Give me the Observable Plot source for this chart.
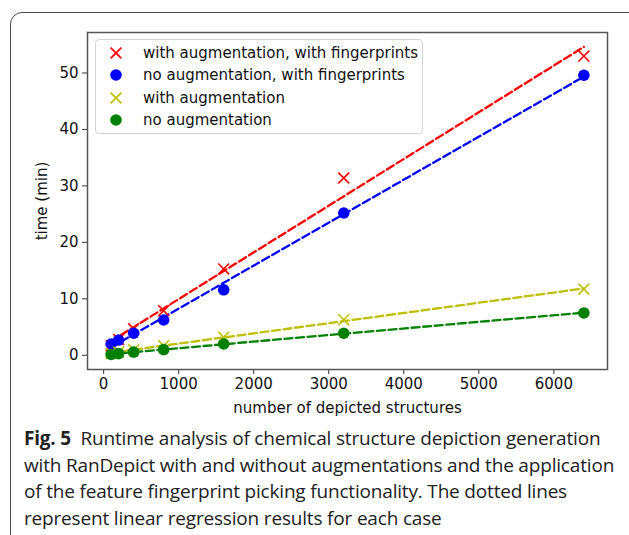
<!DOCTYPE html>
<html>
<head>
<meta charset="utf-8">
<script src="https://cdn.jsdelivr.net/npm/d3@7"></script>
<script src="https://cdn.jsdelivr.net/npm/@observablehq/plot@0.6"></script>
<style>
  html, body { margin: 0; padding: 0; background: #fff; width: 629px; height: 535px; overflow: hidden; }
  #wrap { position: relative; width: 629px; height: 535px; }
  #panel { position: absolute; left: 10px; top: 12px; width: 700px; height: 600px; border: 1.4px solid #4a4a4a; border-top-left-radius: 12px; box-sizing: border-box; }
  #chart { position: absolute; left: 0; top: 0; }
  #legend { position: absolute; left: 95px; top: 39px; width: 328px; height: 95px; box-sizing: border-box; border: 1px solid #d4d4d4; border-radius: 4px; background: rgba(255,255,255,0.8); font-family: "DejaVu Sans", sans-serif; font-size: 15px; color: #111; }
  .row { position: absolute; left: 0; height: 20px; display: flex; align-items: center; }
  .row svg { position: absolute; left: 10px; }
  .row span { position: absolute; left: 47px; white-space: nowrap; }
  #caption { position: absolute; left: 24px; top: 425px; font-family: "Open Sans", sans-serif; font-size: 19px; line-height: 26.7px; color: #222; letter-spacing: -0.18px; white-space: nowrap; }
  #caption b { font-weight: 700; letter-spacing: -0.2px; }
</style>
</head>
<body>
<div id="wrap">
  <div id="panel"></div>
  <div id="chart"></div>
  <div id="legend"></div>
  <div id="caption">
    <div><b>Fig. 5</b>&nbsp; Runtime analysis of chemical structure depiction generation</div>
    <div>with RanDepict with and without augmentations and the application</div>
    <div>of the feature fingerprint picking functionality. The dotted lines</div>
    <div>represent linear regression results for each case</div>
  </div>
</div>
<script>
// ---- data ----
const structures = [100, 200, 400, 800, 1600, 3200, 6400];
const augFp   = [1.7, 2.8, 4.7, 7.9, 15.3, 31.4, 53.0];   // with augmentation, with fingerprints
const noAugFp = [2.0, 2.7, 3.9, 6.25, 11.6, 25.2, 49.6];  // no augmentation, with fingerprints
const augOnly = [0.3, 0.6, 1.0, 1.7, 3.2, 6.3, 11.7];     // with augmentation
const noAug   = [0.15, 0.3, 0.57, 1.0, 2.0, 3.9, 7.5];    // no augmentation

const seriesNames = [
  "with augmentation, with fingerprints",
  "no augmentation, with fingerprints",
  "with augmentation",
  "no augmentation"
];
const seriesValues = [augFp, noAugFp, augOnly, noAug];
const seriesColors = ["#ff0000", "#0000ff", "#bfbf00", "#008000"];
const seriesSymbols = ["times", "circle", "times", "circle"];

const xTicks = [0, 1000, 2000, 3000, 4000, 5000, 6000];
const yTicks = [0, 10, 20, 30, 40, 50];

const rows = [];
seriesNames.forEach((name, i) => {
  structures.forEach((n, j) => rows.push({series: name, idx: i, x: n, y: seriesValues[i][j]}));
});

const marks = [];
seriesNames.forEach((name, i) => {
  const d = rows.filter(r => r.idx === i);
  marks.push(Plot.linearRegressionY(d, {
    x: "x", y: "y", stroke: seriesColors[i], ci: 0,
    strokeWidth: 2.3, strokeDasharray: "8,3.6", strokeOpacity: 1
  }));
});
seriesNames.forEach((name, i) => {
  const d = rows.filter(r => r.idx === i);
  if (seriesSymbols[i] === "circle") {
    marks.push(Plot.dot(d, {x: "x", y: "y", r: 5.8, fill: seriesColors[i], stroke: "none", symbol: "circle"}));
  } else {
    marks.push(Plot.dot(d, {x: "x", y: "y", r: 5, stroke: seriesColors[i], strokeWidth: 1.6, symbol: "times"}));
  }
});

const chart = Plot.plot({
  width: 629,
  height: 420,
  marginLeft: 87,
  marginRight: 22,
  marginTop: 32,
  marginBottom: 51,
  style: {fontFamily: "DejaVu Sans, sans-serif", fontSize: "15px", color: "#111", background: "transparent"},
  x: {domain: [-215, 6715]},
  y: {domain: [-2.52, 57.17]},
  marks: [
    Plot.axisX({ticks: xTicks, tickSize: 5, tickPadding: 4, tickFormat: d => String(d), fontSize: 15, label: "number of depicted structures", labelAnchor: "center", labelArrow: "none", labelOffset: 43, stroke: "#333"}),
    Plot.axisY({ticks: yTicks, tickSize: 5, tickPadding: 4, tickFormat: d => String(d), fontSize: 15, label: "time (min)", labelAnchor: "center", labelArrow: "none", labelOffset: 51, stroke: "#333"}),
    ...marks,
    Plot.frame({stroke: "#555", strokeWidth: 1.5})
  ]
});
document.getElementById("chart").appendChild(chart);

// legend
const legend = document.getElementById("legend");
seriesNames.forEach((name, i) => {
  const row = document.createElement("div");
  row.className = "row";
  row.style.top = (3 + i * 22.3) + "px";
  const sym = seriesSymbols[i] === "circle"
    ? `<circle cx="10" cy="10" r="5.8" fill="${seriesColors[i]}"/>`
    : `<path d="M4.6,4.6L15.4,15.4M4.6,15.4L15.4,4.6" stroke="${seriesColors[i]}" stroke-width="1.6"/>`;
  row.innerHTML = `<svg width="20" height="20" viewBox="0 0 20 20">${sym}</svg><span>${name}</span>`;
  legend.appendChild(row);
});
</script>
</body>
</html>
